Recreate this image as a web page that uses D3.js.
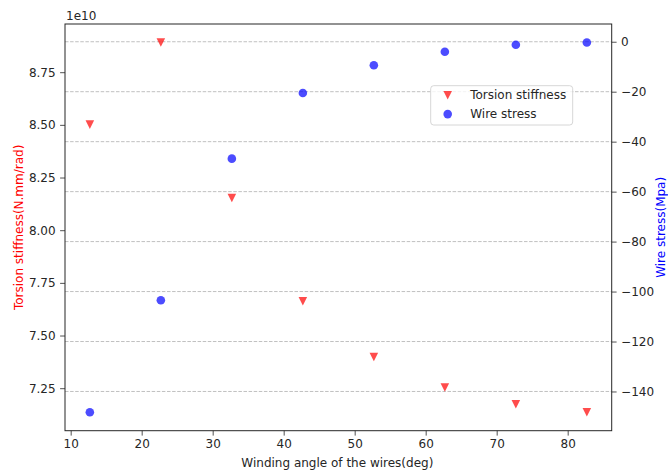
<!DOCTYPE html>
<html>
<head>
<meta charset="utf-8">
<script src="https://cdn.jsdelivr.net/npm/d3@7"></script>
<style>
  html, body { margin: 0; padding: 0; background: #fff; }
  svg { display: block; font-family: "DejaVu Sans", sans-serif; }
</style>
</head>
<body>
<svg id="chart" width="668" height="471"></svg>
<script>
// Winding angle of the wires (deg)
const angles = [12.7, 22.7, 32.7, 42.7, 52.7, 62.7, 72.7, 82.7];
// Torsion stiffness, in units of 1e10 N.mm/rad
const stiffness = [8.501, 8.891, 8.153, 7.663, 7.398, 7.253, 7.174, 7.136];
// Wire stress (Mpa)
const stress = [-148.3, -103.5, -46.8, -20.5, -9.4, -4.0, -1.2, -0.3];
// Tick values
const xTicks = [10, 20, 30, 40, 50, 60, 70, 80];
const leftTicks = [7.25, 7.50, 7.75, 8.00, 8.25, 8.50, 8.75];
const rightTicks = [-140, -120, -100, -80, -60, -40, -20, 0];
const seriesNames = ["Torsion stiffness", "Wire stress"];

const svg = d3.select("#chart");
const L = 65, R = 611.7, T = 24, B = 430.7;
const FS = 12;
const ink = "#262626";

// extent with 5% padding on each side
function padded(values) {
  const [lo, hi] = d3.extent(values);
  const p = (hi - lo) * 0.05;
  return [lo - p, hi + p];
}

const x = d3.scaleLinear().domain(padded(angles)).range([L, R]);
const yL = d3.scaleLinear().domain(padded(stiffness)).range([B, T]);
const yR = d3.scaleLinear().domain(padded(stress)).range([B, T]);

// dashed grid from the right-hand axis
svg.append("g")
  .selectAll("line")
  .data(rightTicks)
  .join("line")
  .attr("x1", L).attr("x2", R)
  .attr("y1", d => yR(d)).attr("y2", d => yR(d))
  .attr("stroke", "#b0b0b0")
  .attr("stroke-width", 0.8)
  .attr("stroke-dasharray", "3.5,1.6");

// axes
function styleAxis(g) {
  g.selectAll("path.domain").remove();
  g.selectAll(".tick line").attr("stroke", ink).attr("stroke-width", 0.8);
  g.selectAll(".tick text").attr("fill", ink).attr("font-size", FS)
    .attr("font-family", "DejaVu Sans, sans-serif");
}

svg.append("g")
  .attr("transform", `translate(0,${B})`)
  .call(d3.axisBottom(x).tickValues(xTicks).tickSize(4.9).tickPadding(4.3).tickFormat(d3.format("d")))
  .call(styleAxis);

svg.append("g")
  .attr("transform", `translate(${L},0)`)
  .call(d3.axisLeft(yL).tickValues(leftTicks).tickSize(4.9).tickPadding(4.5).tickFormat(d3.format(".2f")))
  .call(styleAxis);

svg.append("g")
  .attr("transform", `translate(${R},0)`)
  .call(d3.axisRight(yR).tickValues(rightTicks).tickSize(4.9).tickPadding(4.5).tickFormat(d3.format("d")))
  .call(styleAxis);

// frame
svg.append("rect")
  .attr("x", L).attr("y", T)
  .attr("width", R - L).attr("height", B - T)
  .attr("fill", "none")
  .attr("stroke", ink)
  .attr("stroke-width", 1);

// markers
const triSize = 4.3;
const triPath = `M${-triSize},${-triSize}L${triSize},${-triSize}L0,${triSize}Z`;

svg.append("g")
  .selectAll("path")
  .data(angles.map((a, i) => [a, stiffness[i]]))
  .join("path")
  .attr("d", triPath)
  .attr("transform", d => `translate(${x(d[0])},${yL(d[1])})`)
  .attr("fill", "red")
  .attr("fill-opacity", 0.7);

svg.append("g")
  .selectAll("circle")
  .data(angles.map((a, i) => [a, stress[i]]))
  .join("circle")
  .attr("cx", d => x(d[0]))
  .attr("cy", d => yR(d[1]))
  .attr("r", 4.3)
  .attr("fill", "blue")
  .attr("fill-opacity", 0.7);

// axis labels
svg.append("text")
  .attr("x", (L + R) / 2 - 1).attr("y", 467)
  .attr("text-anchor", "middle")
  .attr("font-size", FS).attr("fill", ink)
  .text("Winding angle of the wires(deg)");

svg.append("text")
  .attr("transform", `translate(23,${(T + B) / 2}) rotate(-90)`)
  .attr("text-anchor", "middle")
  .attr("font-size", FS).attr("fill", "red")
  .text("Torsion stiffness(N.mm/rad)");

svg.append("text")
  .attr("transform", `translate(664.5,${(T + B) / 2}) rotate(-90)`)
  .attr("text-anchor", "middle")
  .attr("font-size", FS).attr("fill", "blue")
  .text("Wire stress(Mpa)");

// offset text for the left axis
svg.append("text")
  .attr("x", L + 1).attr("y", 20)
  .attr("font-size", FS).attr("fill", ink)
  .text("1e10");

// legend
const lg = svg.append("g").attr("transform", "translate(430.7,85.7)");
lg.append("rect")
  .attr("width", 142).attr("height", 39.3)
  .attr("rx", 3)
  .attr("fill", "#fff").attr("fill-opacity", 0.8)
  .attr("stroke", "#cccccc").attr("stroke-width", 0.8);
lg.append("path")
  .attr("d", triPath)
  .attr("transform", "translate(17,9.6)")
  .attr("fill", "red").attr("fill-opacity", 0.7);
lg.append("circle")
  .attr("cx", 17).attr("cy", 28.4).attr("r", 4.3)
  .attr("fill", "blue").attr("fill-opacity", 0.7);
lg.selectAll("text")
  .data(seriesNames)
  .join("text")
  .attr("x", 39.5)
  .attr("y", (d, i) => 13.8 + i * 18.8)
  .attr("font-size", FS).attr("fill", ink)
  .text(d => d);
</script>
</body>
</html>
